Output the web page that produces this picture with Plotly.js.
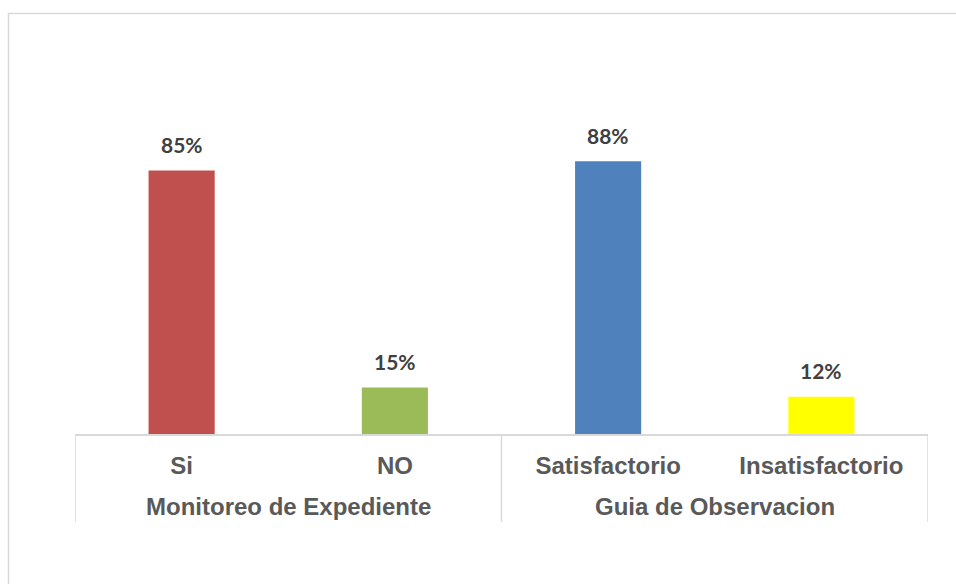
<!DOCTYPE html>
<html>
<head>
<meta charset="utf-8">
<script src="https://cdn.plot.ly/plotly-3.0.1.min.js"></script>
<style>html,body{margin:0;padding:0;background:#fff;}#chart{width:956px;height:584px;}</style>
</head>
<body>
<div id="chart"></div>
<script>
const categories = ['Si', 'NO', 'Satisfactorio', 'Insatisfactorio'];
const values = [0.85, 0.15, 0.88, 0.12];
const barColors = ['#C0504D', '#9BBB59', '#4F81BD', '#FFFF00'];
const groups = ['Monitoreo de Expediente', 'Guia de Observacion'];
const groupMembers = [[0, 1], [2, 3]];

const W = 956, H = 584;
const L = 75, R = 28, T = 124, B = 150;
const pw = W - L - R, ph = H - T - B;
const px2x = p => (p - L) / pw;
const py2y = p => (H - B - p) / ph;

const annotations = [];
values.forEach((v, i) => {
  annotations.push({
    x: categories[i], y: v, xref: 'x', yref: 'y',
    text: Math.round(v * 100) + '%', showarrow: false,
    yanchor: 'middle', yshift: 26,
    font: {family: 'Lato, "Open Sans", sans-serif', size: 21, color: '#404040', weight: 'bold'}
  });
});
groups.forEach((g, gi) => {
  const m = groupMembers[gi];
  annotations.push({
    x: (m[0] + m[m.length - 1]) / 2, xref: 'x',
    y: py2y(507), yref: 'paper', yanchor: 'middle',
    text: g, showarrow: false,
    font: {family: '"Liberation Sans", Arial, sans-serif', size: 24, color: '#595959', weight: 'bold'}
  });
});

const dividerColor = '#d9d9d9';
const shapes = [];
const divPos = [-0.5];
groupMembers.forEach(m => divPos.push(m[m.length - 1] + 0.5));
divPos.forEach(xv => {
  shapes.push({type: 'line', xref: 'x', yref: 'paper', x0: xv, x1: xv, y0: 0, y1: py2y(522),
    line: {color: dividerColor, width: 1.5}});
});
// outer chart border (left and top edges visible)
shapes.push({type: 'rect', xref: 'paper', yref: 'paper',
  x0: px2x(8.5), x1: px2x(W + 20), y0: py2y(H + 20), y1: py2y(13.5),
  line: {color: '#d9d9d9', width: 1.5}, fillcolor: 'rgba(0,0,0,0)', layer: 'below'});

const trace = {
  type: 'bar', x: categories, y: values,
  marker: {color: barColors, line: {width: 0}},
  width: 0.31, hoverinfo: 'skip'
};

const layout = {
  width: W, height: H,
  margin: {l: L, r: R, t: T, b: B, pad: 0},
  paper_bgcolor: '#ffffff', plot_bgcolor: '#ffffff',
  showlegend: false,
  xaxis: {
    type: 'category', range: [-0.5, 3.5],
    showline: true, linecolor: '#d9d9d9', linewidth: 1.5,
    ticks: 'outside', ticklen: 10, tickcolor: 'rgba(0,0,0,0)',
    tickfont: {family: '"Liberation Sans", Arial, sans-serif', size: 24, color: '#595959', weight: 'bold'},
    showgrid: false, zeroline: false, fixedrange: true
  },
  yaxis: {
    range: [0, 1], visible: false, showgrid: false, zeroline: false, fixedrange: true
  },
  annotations: annotations,
  shapes: shapes
};

Plotly.newPlot('chart', [trace], layout, {displayModeBar: false, staticPlot: true});
</script>
</body>
</html>
